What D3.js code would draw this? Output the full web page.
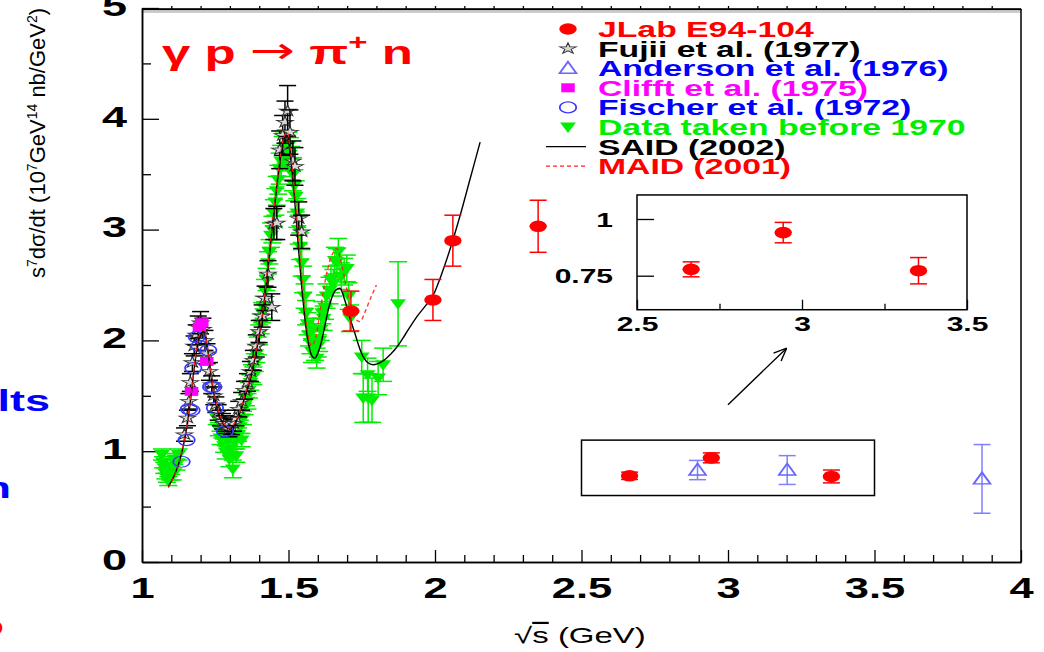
<!DOCTYPE html>
<html><head><meta charset="utf-8">
<script src="https://cdn.jsdelivr.net/npm/d3@7"></script>
<style>
body{margin:0;background:#fff;}
text{font-family:"Liberation Sans",Arial,Helvetica,sans-serif;}
</style></head>
<body><svg id="c" width="1044" height="652"></svg>
<script>
// ---------------- DATA ----------------
// JLab E94-104 : [W, value, error]
const jlab = [[1.713,2.265,0.18],[1.993,2.365,0.185],[2.061,2.90,0.23],[2.352,3.03,0.235],[2.664,0.778,0.033],[2.943,0.94,0.045],[3.353,0.772,0.058]];
// Fujii et al. (1977)
const fujii = [[1.145,1.15,0.06],[1.155,1.30,0.07],[1.16,1.45,0.07],[1.165,1.62,0.08],[1.172,1.80,0.08],[1.178,1.95,0.09],[1.185,2.05,0.09],[1.192,2.12,0.10],[1.20,2.16,0.10],[1.208,2.10,0.10],[1.215,2.00,0.09],[1.222,1.88,0.09],[1.23,1.72,0.08],[1.238,1.60,0.08],[1.245,1.50,0.08],[1.252,1.42,0.07],[1.26,1.35,0.07],[1.268,1.30,0.07],[1.275,1.27,0.07],[1.282,1.25,0.07],[1.29,1.23,0.07],[1.297,1.20,0.07],[1.305,1.22,0.07],[1.312,1.25,0.07],[1.32,1.30,0.07],[1.33,1.38,0.07],[1.34,1.45,0.08],[1.35,1.55,0.08],[1.36,1.62,0.08],[1.37,1.72,0.09],[1.38,1.82,0.09],[1.39,1.95,0.10],[1.40,2.08,0.10],[1.41,2.22,0.10],[1.42,2.38,0.11],[1.43,2.60,0.12],[1.443,2.30,0.12],[1.45,3.05,0.14],[1.46,3.06,0.15],[1.47,3.72,0.17],[1.48,3.85,0.18],[1.488,3.97,0.19],[1.497,4.07,0.23],[1.505,3.88,0.20],[1.515,3.62,0.18],[1.522,3.57,0.17],[1.535,3.10,0.15],[1.545,2.98,0.15]];
// Anderson et al. (1976)
const anderson = [[2.896,0.83,0.087],[3.202,0.83,0.13],[3.867,0.75,0.31]];
// Clifft et al. (1975)
const clifft = [[1.169,1.54,0.08],[1.196,2.12,0.08],[1.204,2.16,0.08],[1.221,1.81,0.08]];
// Fischer et al. (1972)
const fischer = [[1.135,0.905],[1.152,1.10],[1.160,1.38],[1.169,1.37],[1.175,1.75],[1.187,2.03],[1.226,1.91],[1.236,1.58],[1.243,1.58],[1.249,1.39],[1.283,1.18],[1.196,1.95]];
// Data taken before 1970
const before1970 = [
 [1.068,0.97,0.05],[1.072,0.90,0.05],[1.076,0.85,0.05],[1.08,0.80,0.05],[1.085,0.76,0.04],[1.09,0.73,0.04],[1.095,0.78,0.04],[1.10,0.84,0.05],[1.105,0.79,0.05],[1.11,0.93,0.05],[1.118,0.88,0.05],[1.125,0.97,0.05],
 [1.255,1.30,0.06],[1.262,1.20,0.06],[1.268,1.12,0.06],[1.274,1.18,0.06],[1.28,1.05,0.06],[1.286,0.99,0.06],[1.292,1.10,0.06],[1.298,0.93,0.07],[1.304,1.02,0.06],[1.31,0.84,0.08],[1.316,1.08,0.06],[1.322,0.96,0.06],[1.328,1.15,0.06],[1.334,1.22,0.06],[1.34,1.10,0.06],
 [1.345,1.30,0.06],[1.35,1.40,0.07],[1.355,1.48,0.07],[1.36,1.45,0.07],[1.365,1.55,0.07],[1.37,1.62,0.07],[1.375,1.70,0.08],[1.38,1.68,0.08],[1.385,1.80,0.08],[1.39,1.88,0.08],[1.395,1.95,0.08],[1.40,2.05,0.09],[1.405,2.15,0.09],[1.41,2.25,0.09],[1.415,2.30,0.10],[1.42,2.45,0.10],[1.425,2.55,0.10],[1.43,2.70,0.10],[1.435,2.80,0.11],[1.44,2.95,0.11],[1.445,3.00,0.12],[1.45,3.15,0.12],[1.455,3.25,0.12],[1.46,3.35,0.13],[1.465,3.45,0.13],[1.47,3.55,0.14],[1.475,3.62,0.14],[1.48,3.70,0.14],[1.485,3.72,0.15],[1.49,3.75,0.15],[1.495,3.70,0.15],[1.50,3.76,0.12],[1.505,3.68,0.15],[1.51,3.60,0.15],[1.515,3.50,0.15],[1.52,3.40,0.14],[1.525,3.30,0.14],[1.53,3.15,0.13],[1.535,3.00,0.13],[1.54,2.85,0.12],[1.545,2.70,0.12],[1.55,2.55,0.12],[1.555,2.40,0.11],[1.56,2.25,0.11],[1.565,2.15,0.10],[1.57,2.05,0.10],[1.575,1.98,0.10],[1.58,1.90,0.10],[1.585,2.10,0.10],[1.59,1.92,0.10],[1.596,1.84,0.09],[1.60,1.95,0.10],[1.605,2.00,0.10],[1.61,2.10,0.10],[1.615,2.25,0.10],[1.62,2.20,0.11],[1.625,2.30,0.11],[1.63,2.40,0.11],[1.64,2.45,0.12],[1.645,2.55,0.12],[1.653,2.52,0.12],[1.658,2.72,0.12],[1.665,2.71,0.12],[1.67,2.80,0.12],[1.68,2.58,0.12],[1.69,2.62,0.12],[1.699,2.65,0.12],[1.705,2.40,0.12],[1.71,2.20,0.12],
 [1.75,1.85,0.15],[1.755,1.48,0.22],[1.77,1.69,0.15],[1.772,1.48,0.22],[1.785,1.46,0.20],[1.806,1.66,0.15],[1.823,1.78,0.15],[1.874,2.33,0.38]];
// SAID (2002) curve
const saidW = [1.09,1.11,1.13,1.15,1.165,1.18,1.195,1.21,1.225,1.24,1.255,1.27,1.285,1.30,1.315,1.33,1.35,1.37,1.39,1.41,1.43,1.45,1.47,1.485,1.495,1.505,1.52,1.535,1.55,1.565,1.58,1.59,1.605,1.62,1.64,1.66,1.676,1.69,1.71,1.727,1.75,1.77,1.789,1.82,1.85,1.87,1.90,1.937,1.97,1.994,2.02,2.051,2.085,2.119,2.154];
const saidV = [0.68,0.78,0.93,1.17,1.45,1.78,2.02,2.08,1.90,1.60,1.40,1.28,1.22,1.20,1.24,1.32,1.48,1.65,1.90,2.20,2.65,3.15,3.60,3.82,3.85,3.70,3.30,2.80,2.35,2.02,1.86,1.84,1.92,2.08,2.32,2.45,2.47,2.38,2.20,2.06,1.88,1.80,1.78,1.81,1.88,1.94,2.06,2.21,2.32,2.41,2.58,2.82,3.12,3.45,3.79];
// MAID (2001) curve
const maidW = [1.09,1.11,1.13,1.15,1.165,1.18,1.195,1.21,1.225,1.24,1.255,1.27,1.285,1.30,1.315,1.33,1.35,1.37,1.39,1.41,1.43,1.45,1.47,1.485,1.495,1.505,1.52,1.535,1.55,1.565,1.578,1.59,1.61,1.63,1.65,1.665,1.68,1.70,1.72,1.744,1.76,1.78,1.80];
const maidV = [0.67,0.78,0.94,1.18,1.46,1.80,2.04,2.10,1.92,1.62,1.42,1.30,1.23,1.21,1.25,1.33,1.50,1.68,1.92,2.22,2.68,3.18,3.62,3.84,3.88,3.74,3.36,2.90,2.45,2.08,1.95,2.00,2.30,2.60,2.78,2.83,2.70,2.45,2.22,2.17,2.25,2.38,2.50];
// axis ticks
const xMajor = [1,1.5,2,2.5,3,3.5,4];
const yMajor = [0,1,2,3,4,5];
const insetXTicks = [2.5,3,3.5];
const insetYTicks = [0.75,1];
const legendLabels = ["JLab E94-104","Fujii et al. (1977)","Anderson et al. (1976)","Clifft et al. (1975)","Fischer et al. (1972)","Data taken before 1970","SAID (2002)","MAID (2001)"];
const legendColors = ["#ff0000","#000000","#0000ff","#ff00ff","#0000ff","#00ee00","#000000","#ff0000"];

// ---------------- DRAW ----------------
const svg = d3.select("#c");
const SX = 1.5; // horizontal stretch of the original picture
const x = d3.scaleLinear().domain([1,4]).range([142,1021]);
const y = d3.scaleLinear().domain([0,5]).range([562,8]);
const GREEN = "#00ee00";

// frame
svg.append("line").attr("x1",x(1)).attr("x2",x(4)).attr("y1",9).attr("y2",9).attr("stroke","#000").attr("stroke-width",1.5);
svg.append("line").attr("x1",x(1)).attr("x2",x(4)).attr("y1",12).attr("y2",12).attr("stroke","#999").attr("stroke-width",1);
svg.append("line").attr("x1",x(4)).attr("x2",x(4)).attr("y1",9).attr("y2",y(0)).attr("stroke","#000").attr("stroke-width",1.5);

// y axis
const yAx = svg.append("g").attr("transform",`translate(${x(1)},0)`)
  .call(d3.axisLeft(y).tickValues(yMajor).tickSizeInner(-17).tickSizeOuter(0).tickPadding(10).tickFormat(d3.format("d")));
svg.append("g").attr("transform",`translate(${x(1)},0)`)
  .call(d3.axisLeft(y).tickValues(d3.range(0.5,5,1)).tickSizeInner(-9).tickSizeOuter(0).tickFormat(""));
// x axis
const xAx = svg.append("g").attr("transform",`translate(0,${y(0)})`)
  .call(d3.axisBottom(x).tickValues(xMajor).tickSizeInner(-12).tickSizeOuter(0).tickPadding(15).tickFormat(d=>String(d)));
svg.append("g").attr("transform",`translate(0,${y(0)})`)
  .call(d3.axisBottom(x).tickValues(d3.range(1.1,4,0.1).filter(v=>Math.abs(v*2-Math.round(v*2))>0.01)).tickSizeInner(-7).tickSizeOuter(0).tickFormat(""));
// top small ticks
svg.append("g").attr("transform",`translate(0,9)`)
  .call(d3.axisTop(x).tickValues(d3.range(1.1,4,0.1)).tickSizeInner(3).tickSizeOuter(0).tickFormat(""));
svg.selectAll(".domain").attr("stroke","#000").attr("stroke-width",1.5);
svg.selectAll(".tick line").attr("stroke","#000").attr("stroke-width",1.3);
yAx.selectAll("text").attr("font-size",30).attr("font-weight","bold").attr("fill","#000")
  .attr("transform",`scale(${SX},1)`).attr("dy","0.24em").attr("x",-10);
xAx.selectAll("text").attr("font-size",29).attr("font-weight","bold").attr("fill","#000")
  .attr("transform",`scale(${SX},1)`);

// axis titles
const yt = svg.append("text").attr("transform","translate(45,143) rotate(-90)").attr("text-anchor","middle").attr("font-size",22).attr("fill","#000");
yt.append("tspan").text("s");
yt.append("tspan").attr("dy",-8).attr("font-size",14).text("7");
yt.append("tspan").attr("dy",8).text("dσ/dt (10");
yt.append("tspan").attr("dy",-8).attr("font-size",14).text("7");
yt.append("tspan").attr("dy",8).text("GeV");
yt.append("tspan").attr("dy",-8).attr("font-size",14).text("14");
yt.append("tspan").attr("dy",8).text(" nb/GeV");
yt.append("tspan").attr("dy",-8).attr("font-size",14).text("2");
yt.append("tspan").attr("dy",8).text(")");

const xt = svg.append("text").attr("transform",`translate(580,643) scale(1.5,1)`).attr("text-anchor","middle").attr("font-size",22).attr("fill","#000");
xt.append("tspan").text("√");
xt.append("tspan").attr("text-decoration","overline").text("s");
xt.append("tspan").text(" (GeV)");

// reaction title
const tt = svg.append("text").attr("transform",`translate(162,64) scale(${SX},1)`).attr("font-size",34).attr("font-weight","bold").attr("fill","#ff0000");
tt.append("tspan").text("γ p ");
tt.append("tspan").attr("font-family","DejaVu Sans").attr("font-weight","normal").attr("font-size",36).attr("dy",-1).text("→");
tt.append("tspan").attr("dy",1).text(" π");
tt.append("tspan").attr("dy",-14).attr("font-size",22).text("+");
tt.append("tspan").attr("dy",14).text(" n");

// cut-off slide text at the left edge
svg.append("text").attr("transform",`translate(50,411) scale(${SX},1)`).attr("text-anchor","end").attr("font-size",30).attr("font-weight","bold").attr("fill","#0000ff").text("lts");
svg.append("text").attr("transform",`translate(11,498) scale(${SX},1)`).attr("text-anchor","end").attr("font-size",30).attr("font-weight","bold").attr("fill","#0000ff").text("n");
svg.append("text").attr("transform",`translate(4,636) scale(${SX},1)`).attr("text-anchor","end").attr("font-size",30).attr("font-weight","bold").attr("fill","#ff0000").text("o");

// ---- marker helpers ----
function errBar(g, cx, y1, y2, half, color, op){
  const e = g.append("g").attr("stroke",color).attr("stroke-width",1.5).attr("opacity",op||1);
  e.append("line").attr("x1",cx).attr("x2",cx).attr("y1",y1).attr("y2",y2);
  e.append("line").attr("x1",cx-half).attr("x2",cx+half).attr("y1",y1).attr("y2",y1);
  e.append("line").attr("x1",cx-half).attr("x2",cx+half).attr("y1",y2).attr("y2",y2);
}
const triDown = "M-5.3,-4.5L5.3,-4.5L0,6Z";
const triUp = "M0,-6.5L5.6,5L-5.6,5Z";
const starPath = d3.symbol().type(d3.symbolStar).size(38)();
function marker(g, kind, cx, cy){
  const m = g.append("g").attr("transform",`translate(${cx},${cy}) scale(${SX},1)`);
  if(kind==="dot") m.append("circle").attr("r",5.8).attr("fill","#ff0000");
  if(kind==="star") m.append("path").attr("d",starPath).attr("fill","#d8d8d8").attr("stroke","#333").attr("stroke-width",0.8);
  if(kind==="triup") m.append("path").attr("d",triUp).attr("fill","none").attr("stroke","#6666ff").attr("stroke-width",1.4);
  if(kind==="square") m.append("rect").attr("x",-4.5).attr("y",-4.5).attr("width",9).attr("height",9).attr("fill","#ff00ff");
  if(kind==="circle") m.append("circle").attr("r",5.5).attr("fill","none").attr("stroke","#3a3aff").attr("stroke-width",1.2);
  if(kind==="tridown") m.append("path").attr("d",triDown).attr("fill",GREEN);
}

// data layers
const gData = svg.append("g");
before1970.forEach(d=>{ errBar(gData, x(d[0]), y(d[1]+d[2]), y(d[1]-d[2]), 9, GREEN); marker(gData,"tridown",x(d[0]),y(d[1])); });
fujii.forEach(d=>{ errBar(gData, x(d[0]), y(d[1]+d[2]), y(d[1]-d[2]), 8.5, "#000"); marker(gData,"star",x(d[0]),y(d[1])); });
fischer.forEach(d=>{ marker(gData,"circle",x(d[0]),y(d[1])); });
clifft.forEach(d=>{ marker(gData,"square",x(d[0]),y(d[1])); });

// curves
const line = d3.line().curve(d3.curveCatmullRom.alpha(0.5)).x(d=>x(d[0])).y(d=>y(d[1]));
svg.append("path").datum(saidW.map((w,i)=>[w,saidV[i]])).attr("d",line).attr("fill","none").attr("stroke","#000").attr("stroke-width",1.4);
svg.append("path").datum(maidW.map((w,i)=>[w,maidV[i]])).attr("d",line).attr("fill","none").attr("stroke","#ff2020").attr("stroke-width",1.4).attr("stroke-dasharray","4,3").attr("opacity",0.9);

// Anderson + JLab
anderson.forEach(d=>{ errBar(svg, x(d[0]), y(d[1]+d[2]), y(d[1]-d[2]), 8.5, "#5555ff", 0.75); marker(svg,"triup",x(d[0]),y(d[1])); });
jlab.forEach(d=>{ errBar(svg, x(d[0]), y(d[1]+d[2]), y(d[1]-d[2]), 8.5, "#ff0000"); marker(svg,"dot",x(d[0]),y(d[1])); });

// zoom box in main plot
svg.append("rect").attr("x",x(2.5)).attr("y",y(1.1)).attr("width",x(3.5)-x(2.5)).attr("height",y(0.6)-y(1.1))
  .attr("fill","none").attr("stroke","#000").attr("stroke-width",1.5);
// arrow
const ax1=x(3.0), ay1=y(1.42), ax2=x(3.2), ay2=y(1.93);
svg.append("line").attr("x1",ax1).attr("y1",ay1).attr("x2",ax2).attr("y2",ay2).attr("stroke","#000").attr("stroke-width",1.4);
const ang = Math.atan2(ay2-ay1, ax2-ax1);
[ang+Math.PI-0.4, ang+Math.PI+0.4].forEach(a=>{
  svg.append("line").attr("x1",ax2).attr("y1",ay2).attr("x2",ax2+14*Math.cos(a)).attr("y2",ay2+14*Math.sin(a)).attr("stroke","#000").attr("stroke-width",1.4);
});

// ---- inset ----
const xi = d3.scaleLinear().domain([2.5,3.5]).range([637,967]);
const yi = d3.scaleLinear().domain([0.75,1]).range([275.7,219]);
const gi = svg.append("g");
gi.append("rect").attr("x",xi(2.5)).attr("y",yi(1.106)).attr("width",xi(3.5)-xi(2.5)).attr("height",yi(0.6)-yi(1.106)).attr("fill","#fff").attr("stroke","#000").attr("stroke-width",1.5);
const iy = gi.append("g").attr("transform",`translate(${xi(2.5)},0)`)
  .call(d3.axisLeft(yi).tickValues(insetYTicks).tickSizeInner(-17).tickSizeOuter(0).tickPadding(16).tickFormat(d=>String(d)));
const ix = gi.append("g").attr("transform",`translate(0,${yi(0.6)})`)
  .call(d3.axisBottom(xi).tickValues(insetXTicks).tickSizeInner(-10).tickSizeOuter(0).tickPadding(7).tickFormat(d=>String(d)));
gi.append("g").attr("transform",`translate(0,${yi(0.6)})`)
  .call(d3.axisBottom(xi).tickValues([2.75,3.25]).tickSizeInner(-6).tickSizeOuter(0).tickFormat(""));
gi.selectAll(".domain").remove();
gi.selectAll(".tick line").attr("stroke","#000").attr("stroke-width",1.3);
iy.selectAll("text").attr("font-size",20).attr("font-weight","bold").attr("fill","#000").attr("transform",`scale(${SX},1)`).attr("x",-16).attr("dy","0.36em");
ix.selectAll("text").attr("font-size",20).attr("font-weight","bold").attr("fill","#000").attr("transform",`scale(${SX},1)`);
jlab.filter(d=>d[0]>2.5&&d[0]<3.5).forEach(d=>{ errBar(gi, xi(d[0]), yi(d[1]+d[2]), yi(d[1]-d[2]), 8.5, "#ff0000"); marker(gi,"dot",xi(d[0]),yi(d[1])); });

// ---- legend ----
const lg = svg.append("g");
const kinds = ["dot","star","triup","square","circle","tridown","line","dash"];
legendLabels.forEach((lab,i)=>{
  const cy = 29 + i*19.6;
  const k = kinds[i];
  if(k==="line") lg.append("line").attr("x1",546).attr("x2",586).attr("y1",cy).attr("y2",cy).attr("stroke","#000").attr("stroke-width",1.3);
  else if(k==="dash") lg.append("line").attr("x1",546).attr("x2",586).attr("y1",cy).attr("y2",cy).attr("stroke","#ff2020").attr("stroke-width",1.3).attr("stroke-dasharray","4,3");
  else marker(lg,k,568,cy);
  lg.append("text").attr("transform",`translate(598,${cy+8}) scale(${SX},1)`).attr("font-size",22.5).attr("font-weight","bold").attr("fill",legendColors[i]).text(lab);
});
</script></body></html>
